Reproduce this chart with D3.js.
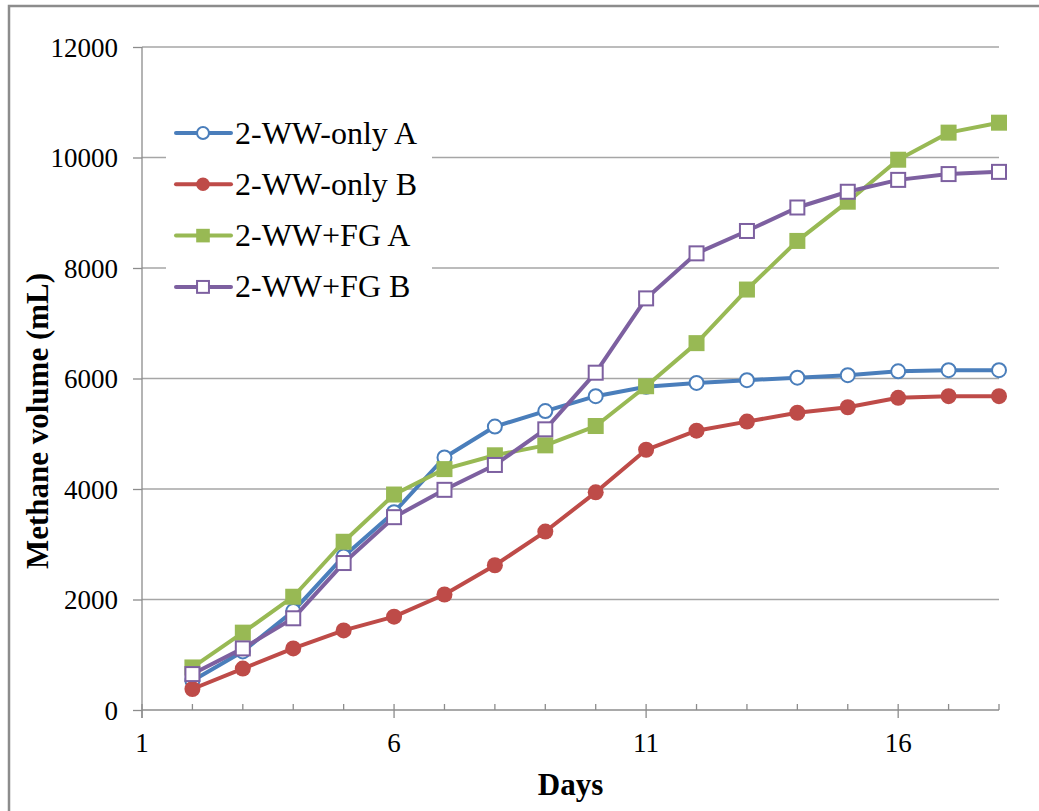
<!DOCTYPE html>
<html>
<head>
<meta charset="utf-8">
<script src="https://cdn.jsdelivr.net/npm/d3@7"></script>
<style>
  html, body { margin: 0; padding: 0; background: #fff; }
  svg { display: block; }
  svg text { font-family: "Liberation Serif", "Times New Roman", Times, serif; fill: #000; }
</style>
</head>
<body>
<svg id="chart" width="1039" height="811"></svg>
<script>
// ---- data ----
const days = [2,3,4,5,6,7,8,9,10,11,12,13,14,15,16,17,18];
const wwOnlyA = [530,1060,1790,2780,3580,4570,5130,5410,5680,5850,5920,5970,6015,6060,6130,6150,6150];
const wwOnlyB = [380,750,1115,1440,1690,2090,2620,3230,3940,4710,5055,5220,5380,5480,5650,5680,5680];
const wwFgA   = [770,1400,2050,3045,3900,4360,4610,4790,5140,5860,6640,7610,8490,9200,9960,10450,10630];
const wwFgB   = [650,1115,1660,2660,3490,3985,4435,5080,6105,7450,8265,8670,9095,9380,9595,9700,9740];
const seriesNames = ["2-WW-only A","2-WW-only B","2-WW+FG A","2-WW+FG B"];
const seriesColors = ["#4a7ebb","#be4b48","#98b954","#7d60a0"];
const seriesMarkers = ["circleOpen","circleFilled","squareFilled","squareOpen"];
const xTickValues = [1,6,11,16];
const yTickValues = [0,2000,4000,6000,8000,10000,12000];
const xTitle = "Days";
const yTitle = "Methane volume (mL)";

const seriesValues = [wwOnlyA, wwOnlyB, wwFgA, wwFgB];

(function(){
const FONT = "'Liberation Serif', 'Times New Roman', Times, serif";
const svg = d3.select("#chart");
const pL = 142, pR = 999, pT = 47, pB = 710;
const x = d3.scaleLinear().domain([1,18]).range([pL,pR]);
const y = d3.scaleLinear().domain([0,12000]).range([pB,pT]);

// outer frame
svg.append("rect").attr("x",9).attr("y",6).attr("width",1200).attr("height",1000)
  .attr("fill","none").attr("stroke","#8c8c8c").attr("stroke-width",2.5);

// gridlines
svg.append("g").selectAll("line").data(yTickValues.filter(d=>d>0)).join("line")
  .attr("x1",pL).attr("x2",pR)
  .attr("y1",d=>y(d)).attr("y2",d=>y(d))
  .attr("stroke","#a6a6a6").attr("stroke-width",1.3);

// y axis
const yAxis = d3.axisLeft(y).tickValues(yTickValues).tickSize(9).tickPadding(15).tickFormat(d3.format("d"));
const gy = svg.append("g").attr("transform",`translate(${pL},0)`).call(yAxis)
  .attr("font-family",FONT).attr("font-size",27);
gy.select(".domain").attr("stroke","#8c8c8c").attr("stroke-width",1.3).attr("d",`M0,${pT}V${pB+8}`);
gy.selectAll(".tick line").attr("stroke","#8c8c8c").attr("stroke-width",1.3);
gy.selectAll(".tick text").attr("font-size",27).attr("font-family",FONT).attr("fill","#000").attr("dy","0.34em");

// x axis: minor ticks inside, major crossing
const allDays = d3.range(1,19);
const gx = svg.append("g");
gx.append("line").attr("x1",pL).attr("x2",pR).attr("y1",pB).attr("y2",pB)
  .attr("stroke","#8c8c8c").attr("stroke-width",1.3);
gx.selectAll("line.tk").data(allDays).join("line").attr("class","tk")
  .attr("x1",d=>x(d)).attr("x2",d=>x(d))
  .attr("y1",pB-6)
  .attr("y2",d=> xTickValues.includes(d) ? pB+8 : pB)
  .attr("stroke","#8c8c8c").attr("stroke-width",1.3);
gx.selectAll("text").data(xTickValues).join("text")
  .attr("x",d=>x(d)).attr("y",752).attr("font-family",FONT)
  .attr("text-anchor","middle").attr("font-size",27).text(d=>d);

// axis titles
svg.append("text").attr("x",(pL+pR)/2).attr("y",795).attr("text-anchor","middle").attr("font-family",FONT)
  .attr("font-size",31).attr("font-weight","bold").text(xTitle);
svg.append("text").attr("transform","translate(48,421) rotate(-90)").attr("text-anchor","middle").attr("font-family",FONT)
  .attr("font-size",31).attr("font-weight","bold").text(yTitle);

// markers
function drawMarker(g, type, color, cx, cy, s) {
  s = s || 1;
  if (type === "circleOpen") {
    g.append("circle").attr("cx",cx).attr("cy",cy).attr("r",7*s)
      .attr("fill","#fff").attr("stroke",color).attr("stroke-width",2);
  } else if (type === "circleFilled") {
    g.append("circle").attr("cx",cx).attr("cy",cy).attr("r",8*s).attr("fill",color);
  } else if (type === "squareFilled") {
    const h = 8*s;
    g.append("rect").attr("x",cx-h).attr("y",cy-h).attr("width",2*h).attr("height",2*h).attr("fill",color);
  } else {
    const h = 7*s;
    g.append("rect").attr("x",cx-h).attr("y",cy-h).attr("width",2*h).attr("height",2*h)
      .attr("fill","#fff").attr("stroke",color).attr("stroke-width",2);
  }
}

const line = d3.line().x(d=>x(d[0])).y(d=>y(d[1]));
seriesValues.forEach((vals,i)=>{
  const pts = days.map((d,j)=>[d,vals[j]]);
  const g = svg.append("g");
  g.append("path").attr("d",line(pts)).attr("fill","none")
    .attr("stroke",seriesColors[i]).attr("stroke-width",4).attr("stroke-linejoin","round");
  pts.forEach(p=>drawMarker(g, seriesMarkers[i], seriesColors[i], x(p[0]), y(p[1])));
});

// legend
const lg = svg.append("g");
lg.append("rect").attr("x",166).attr("y",108).attr("width",266).attr("height",205).attr("fill","#fff");
seriesNames.forEach((name,i)=>{
  const cy = 133 + i*51.3;
  lg.append("line").attr("x1",176).attr("x2",231).attr("y1",cy).attr("y2",cy)
    .attr("stroke",seriesColors[i]).attr("stroke-width",4).attr("stroke-linecap","round");
  drawMarker(lg, seriesMarkers[i], seriesColors[i], 203, cy, 0.85);
  lg.append("text").attr("x",235).attr("y",cy).attr("dy","0.33em").attr("font-family",FONT)
    .attr("font-size",32).text(name);
});
})();
</script>
</body>
</html>
